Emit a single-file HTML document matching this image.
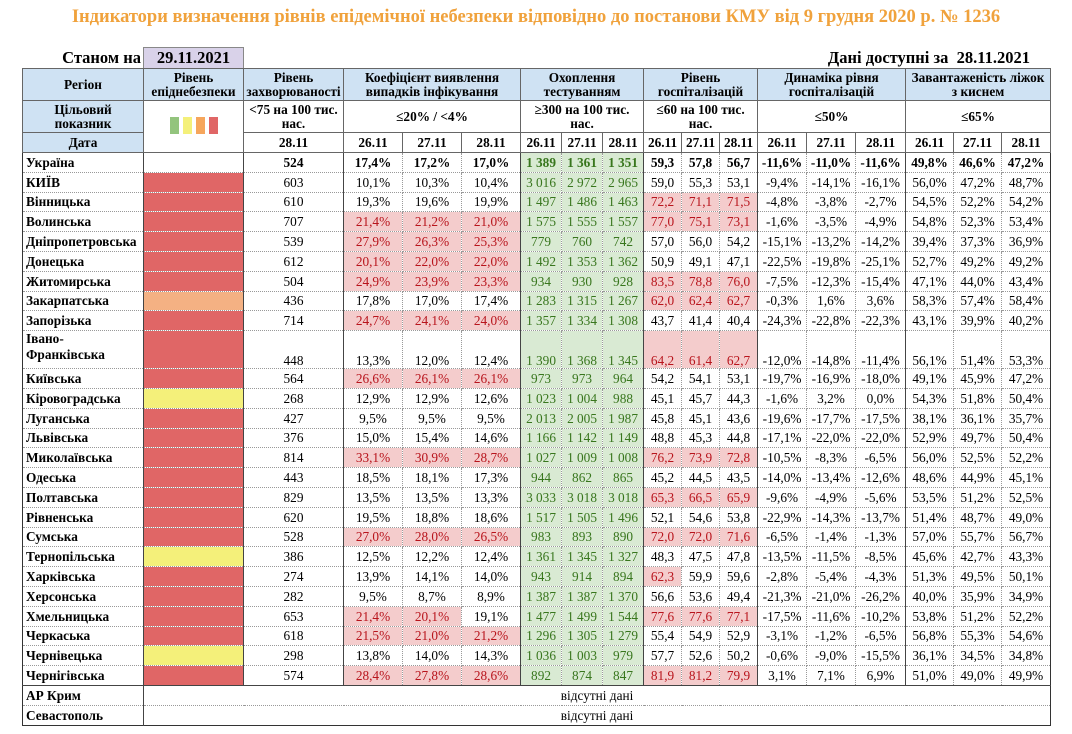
<!DOCTYPE html>
<html><head><meta charset="utf-8">
<style>
body{margin:0;width:1072px;height:734px;background:#fff;font-family:"Liberation Serif","DejaVu Serif",serif;color:#000;position:relative;overflow:hidden}
.title{position:absolute;left:0;width:1072px;top:7px;text-align:center;color:#f0a23c;font-weight:bold;font-size:18.5px}
.st{position:absolute;left:22px;top:48px;width:119px;text-align:right;font-weight:bold;font-size:16.5px}
.dt{position:absolute;left:143px;top:47px;width:99px;height:20px;background:#d9d2e9;border:1px solid #888;border-bottom:none;text-align:center;font-weight:bold;font-size:16.5px;line-height:20px}
.av{position:absolute;right:42px;top:48px;font-weight:bold;font-size:16.5px}
table{position:absolute;left:22px;top:68px;border-collapse:collapse;table-layout:fixed;width:1028px;font-size:13.3px;border:1.5px solid #333}
td{border:1px dotted #999;text-align:center;padding:0;white-space:nowrap;overflow:hidden;line-height:15px}
tr.d td{height:18.8px}
td.n{text-align:left;font-weight:bold;padding-left:3px}
.h td{background:#cfe2f3;font-weight:bold;border:1px solid #666;line-height:14px}
.h2 td{font-weight:bold;border:1px solid #666;line-height:14px}
.h2 td.b{background:#cfe2f3}
.s{border-left:1px solid #444!important}
.R{background:#e06666}.O{background:#f4b183}.Y{background:#f4f07a}
.p{background:#f4cccc;color:#b8141c}
.g{background:#d9ead3;color:#38761d}
tr.u td{font-weight:bold}
</style></head><body>
<div class="title">Індикатори визначення рівнів епідемічної небезпеки відповідно до постанови КМУ від 9 грудня 2020 р. № 1236</div>
<div class="st">Станом на</div><div class="dt">29.11.2021</div>
<div class="av">Дані доступні за &nbsp;28.11.2021</div>
<table>
<colgroup><col style="width:121px"><col style="width:100px"><col style="width:100px"><col style="width:59px"><col style="width:59px"><col style="width:59px"><col style="width:41px"><col style="width:41px"><col style="width:41px"><col style="width:38px"><col style="width:38px"><col style="width:38px"><col style="width:49px"><col style="width:49px"><col style="width:50px"><col style="width:48px"><col style="width:48px"><col style="width:49px"></colgroup>
<tr class="h" style="height:32px"><td>Регіон</td><td>Рівень<br>епіднебезпеки</td><td>Рівень<br>захворюваності</td><td colspan="3">Коефіцієнт виявлення<br>випадків інфікування</td><td colspan="3">Охоплення<br>тестуванням</td><td colspan="3">Рівень<br>госпіталізацій</td><td colspan="3">Динаміка рівня<br>госпіталізацій</td><td colspan="3">Завантаженість ліжок<br>з киснем</td></tr>
<tr class="h2" style="height:32px"><td class="b">Цільовий<br>показник</td><td rowspan="2"><span style="display:inline-block;width:9px;height:17px;background:#93c47d;margin:0 2px"></span><span style="display:inline-block;width:9px;height:17px;background:#f4f07a;margin:0 2px"></span><span style="display:inline-block;width:9px;height:17px;background:#f6a65c;margin:0 2px"></span><span style="display:inline-block;width:9px;height:17px;background:#e06666;margin:0 2px"></span></td><td>&lt;75 на 100 тис.<br>нас.</td><td colspan="3">≤20% / &lt;4%</td><td colspan="3">≥300 на 100 тис.<br>нас.</td><td colspan="3">≤60 на 100 тис.<br>нас.</td><td colspan="3">≤50%</td><td colspan="3">≤65%</td></tr>
<tr class="h2" style="height:20px"><td class="b">Дата</td><td>28.11</td><td>26.11</td><td>27.11</td><td>28.11</td><td>26.11</td><td>27.11</td><td>28.11</td><td>26.11</td><td>27.11</td><td>28.11</td><td>26.11</td><td>27.11</td><td>28.11</td><td>26.11</td><td>27.11</td><td>28.11</td></tr>
<tr class="d u"><td class="n">Україна</td><td class="s"></td><td class="s">524</td><td class="s">17,4%</td><td>17,2%</td><td>17,0%</td><td class="s g">1 389</td><td class="g">1 361</td><td class="g">1 351</td><td class="s">59,3</td><td>57,8</td><td>56,7</td><td class="s">-11,6%</td><td>-11,0%</td><td>-11,6%</td><td class="s">49,8%</td><td>46,6%</td><td>47,2%</td></tr>
<tr class="d"><td class="n">КИЇВ</td><td class="s R"></td><td class="s">603</td><td class="s">10,1%</td><td>10,3%</td><td>10,4%</td><td class="s g">3 016</td><td class="g">2 972</td><td class="g">2 965</td><td class="s">59,0</td><td>55,3</td><td>53,1</td><td class="s">-9,4%</td><td>-14,1%</td><td>-16,1%</td><td class="s">56,0%</td><td>47,2%</td><td>48,7%</td></tr>
<tr class="d"><td class="n">Вінницька</td><td class="s R"></td><td class="s">610</td><td class="s">19,3%</td><td>19,6%</td><td>19,9%</td><td class="s g">1 497</td><td class="g">1 486</td><td class="g">1 463</td><td class="s p">72,2</td><td class="p">71,1</td><td class="p">71,5</td><td class="s">-4,8%</td><td>-3,8%</td><td>-2,7%</td><td class="s">54,5%</td><td>52,2%</td><td>54,2%</td></tr>
<tr class="d"><td class="n">Волинська</td><td class="s R"></td><td class="s">707</td><td class="s p">21,4%</td><td class="p">21,2%</td><td class="p">21,0%</td><td class="s g">1 575</td><td class="g">1 555</td><td class="g">1 557</td><td class="s p">77,0</td><td class="p">75,1</td><td class="p">73,1</td><td class="s">-1,6%</td><td>-3,5%</td><td>-4,9%</td><td class="s">54,8%</td><td>52,3%</td><td>53,4%</td></tr>
<tr class="d"><td class="n">Дніпропетровська</td><td class="s R"></td><td class="s">539</td><td class="s p">27,9%</td><td class="p">26,3%</td><td class="p">25,3%</td><td class="s g">779</td><td class="g">760</td><td class="g">742</td><td class="s">57,0</td><td>56,0</td><td>54,2</td><td class="s">-15,1%</td><td>-13,2%</td><td>-14,2%</td><td class="s">39,4%</td><td>37,3%</td><td>36,9%</td></tr>
<tr class="d"><td class="n">Донецька</td><td class="s R"></td><td class="s">612</td><td class="s p">20,1%</td><td class="p">22,0%</td><td class="p">22,0%</td><td class="s g">1 492</td><td class="g">1 353</td><td class="g">1 362</td><td class="s">50,9</td><td>49,1</td><td>47,1</td><td class="s">-22,5%</td><td>-19,8%</td><td>-25,1%</td><td class="s">52,7%</td><td>49,2%</td><td>49,2%</td></tr>
<tr class="d"><td class="n">Житомирська</td><td class="s R"></td><td class="s">504</td><td class="s p">24,9%</td><td class="p">23,9%</td><td class="p">23,3%</td><td class="s g">934</td><td class="g">930</td><td class="g">928</td><td class="s p">83,5</td><td class="p">78,8</td><td class="p">76,0</td><td class="s">-7,5%</td><td>-12,3%</td><td>-15,4%</td><td class="s">47,1%</td><td>44,0%</td><td>43,4%</td></tr>
<tr class="d"><td class="n">Закарпатська</td><td class="s O"></td><td class="s">436</td><td class="s">17,8%</td><td>17,0%</td><td>17,4%</td><td class="s g">1 283</td><td class="g">1 315</td><td class="g">1 267</td><td class="s p">62,0</td><td class="p">62,4</td><td class="p">62,7</td><td class="s">-0,3%</td><td>1,6%</td><td>3,6%</td><td class="s">58,3%</td><td>57,4%</td><td>58,4%</td></tr>
<tr class="d"><td class="n">Запорізька</td><td class="s R"></td><td class="s">714</td><td class="s p">24,7%</td><td class="p">24,1%</td><td class="p">24,0%</td><td class="s g">1 357</td><td class="g">1 334</td><td class="g">1 308</td><td class="s">43,7</td><td>41,4</td><td>40,4</td><td class="s">-24,3%</td><td>-22,8%</td><td>-22,3%</td><td class="s">43,1%</td><td>39,9%</td><td>40,2%</td></tr>
<tr class="d" style="height:38px"><td class="n" style="vertical-align:top;line-height:16px">Івано-<br>Франківська</td><td class="s R"></td><td class="s" style="vertical-align:bottom">448</td><td class="s" style="vertical-align:bottom">13,3%</td><td style="vertical-align:bottom">12,0%</td><td style="vertical-align:bottom">12,4%</td><td class="s g" style="vertical-align:bottom">1 390</td><td class="g" style="vertical-align:bottom">1 368</td><td class="g" style="vertical-align:bottom">1 345</td><td class="s p" style="vertical-align:bottom">64,2</td><td class="p" style="vertical-align:bottom">61,4</td><td class="p" style="vertical-align:bottom">62,7</td><td class="s" style="vertical-align:bottom">-12,0%</td><td style="vertical-align:bottom">-14,8%</td><td style="vertical-align:bottom">-11,4%</td><td class="s" style="vertical-align:bottom">56,1%</td><td style="vertical-align:bottom">51,4%</td><td style="vertical-align:bottom">53,3%</td></tr>
<tr class="d"><td class="n">Київська</td><td class="s R"></td><td class="s">564</td><td class="s p">26,6%</td><td class="p">26,1%</td><td class="p">26,1%</td><td class="s g">973</td><td class="g">973</td><td class="g">964</td><td class="s">54,2</td><td>54,1</td><td>53,1</td><td class="s">-19,7%</td><td>-16,9%</td><td>-18,0%</td><td class="s">49,1%</td><td>45,9%</td><td>47,2%</td></tr>
<tr class="d"><td class="n">Кіровоградська</td><td class="s Y"></td><td class="s">268</td><td class="s">12,9%</td><td>12,9%</td><td>12,6%</td><td class="s g">1 023</td><td class="g">1 004</td><td class="g">988</td><td class="s">45,1</td><td>45,7</td><td>44,3</td><td class="s">-1,6%</td><td>3,2%</td><td>0,0%</td><td class="s">54,3%</td><td>51,8%</td><td>50,4%</td></tr>
<tr class="d"><td class="n">Луганська</td><td class="s R"></td><td class="s">427</td><td class="s">9,5%</td><td>9,5%</td><td>9,5%</td><td class="s g">2 013</td><td class="g">2 005</td><td class="g">1 987</td><td class="s">45,8</td><td>45,1</td><td>43,6</td><td class="s">-19,6%</td><td>-17,7%</td><td>-17,5%</td><td class="s">38,1%</td><td>36,1%</td><td>35,7%</td></tr>
<tr class="d"><td class="n">Львівська</td><td class="s R"></td><td class="s">376</td><td class="s">15,0%</td><td>15,4%</td><td>14,6%</td><td class="s g">1 166</td><td class="g">1 142</td><td class="g">1 149</td><td class="s">48,8</td><td>45,3</td><td>44,8</td><td class="s">-17,1%</td><td>-22,0%</td><td>-22,0%</td><td class="s">52,9%</td><td>49,7%</td><td>50,4%</td></tr>
<tr class="d"><td class="n">Миколаївська</td><td class="s R"></td><td class="s">814</td><td class="s p">33,1%</td><td class="p">30,9%</td><td class="p">28,7%</td><td class="s g">1 027</td><td class="g">1 009</td><td class="g">1 008</td><td class="s p">76,2</td><td class="p">73,9</td><td class="p">72,8</td><td class="s">-10,5%</td><td>-8,3%</td><td>-6,5%</td><td class="s">56,0%</td><td>52,5%</td><td>52,2%</td></tr>
<tr class="d"><td class="n">Одеська</td><td class="s R"></td><td class="s">443</td><td class="s">18,5%</td><td>18,1%</td><td>17,3%</td><td class="s g">944</td><td class="g">862</td><td class="g">865</td><td class="s">45,2</td><td>44,5</td><td>43,5</td><td class="s">-14,0%</td><td>-13,4%</td><td>-12,6%</td><td class="s">48,6%</td><td>44,9%</td><td>45,1%</td></tr>
<tr class="d"><td class="n">Полтавська</td><td class="s R"></td><td class="s">829</td><td class="s">13,5%</td><td>13,5%</td><td>13,3%</td><td class="s g">3 033</td><td class="g">3 018</td><td class="g">3 018</td><td class="s p">65,3</td><td class="p">66,5</td><td class="p">65,9</td><td class="s">-9,6%</td><td>-4,9%</td><td>-5,6%</td><td class="s">53,5%</td><td>51,2%</td><td>52,5%</td></tr>
<tr class="d"><td class="n">Рівненська</td><td class="s R"></td><td class="s">620</td><td class="s">19,5%</td><td>18,8%</td><td>18,6%</td><td class="s g">1 517</td><td class="g">1 505</td><td class="g">1 496</td><td class="s">52,1</td><td>54,6</td><td>53,8</td><td class="s">-22,9%</td><td>-14,3%</td><td>-13,7%</td><td class="s">51,4%</td><td>48,7%</td><td>49,0%</td></tr>
<tr class="d"><td class="n">Сумська</td><td class="s R"></td><td class="s">528</td><td class="s p">27,0%</td><td class="p">28,0%</td><td class="p">26,5%</td><td class="s g">983</td><td class="g">893</td><td class="g">890</td><td class="s p">72,0</td><td class="p">72,0</td><td class="p">71,6</td><td class="s">-6,5%</td><td>-1,4%</td><td>-1,3%</td><td class="s">57,0%</td><td>55,7%</td><td>56,7%</td></tr>
<tr class="d"><td class="n">Тернопільська</td><td class="s Y"></td><td class="s">386</td><td class="s">12,5%</td><td>12,2%</td><td>12,4%</td><td class="s g">1 361</td><td class="g">1 345</td><td class="g">1 327</td><td class="s">48,3</td><td>47,5</td><td>47,8</td><td class="s">-13,5%</td><td>-11,5%</td><td>-8,5%</td><td class="s">45,6%</td><td>42,7%</td><td>43,3%</td></tr>
<tr class="d"><td class="n">Харківська</td><td class="s R"></td><td class="s">274</td><td class="s">13,9%</td><td>14,1%</td><td>14,0%</td><td class="s g">943</td><td class="g">914</td><td class="g">894</td><td class="s p">62,3</td><td>59,9</td><td>59,6</td><td class="s">-2,8%</td><td>-5,4%</td><td>-4,3%</td><td class="s">51,3%</td><td>49,5%</td><td>50,1%</td></tr>
<tr class="d"><td class="n">Херсонська</td><td class="s R"></td><td class="s">282</td><td class="s">9,5%</td><td>8,7%</td><td>8,9%</td><td class="s g">1 387</td><td class="g">1 387</td><td class="g">1 370</td><td class="s">56,6</td><td>53,6</td><td>49,4</td><td class="s">-21,3%</td><td>-21,0%</td><td>-26,2%</td><td class="s">40,0%</td><td>35,9%</td><td>34,9%</td></tr>
<tr class="d"><td class="n">Хмельницька</td><td class="s R"></td><td class="s">653</td><td class="s p">21,4%</td><td class="p">20,1%</td><td>19,1%</td><td class="s g">1 477</td><td class="g">1 499</td><td class="g">1 544</td><td class="s p">77,6</td><td class="p">77,6</td><td class="p">77,1</td><td class="s">-17,5%</td><td>-11,6%</td><td>-10,2%</td><td class="s">53,8%</td><td>51,2%</td><td>52,2%</td></tr>
<tr class="d"><td class="n">Черкаська</td><td class="s R"></td><td class="s">618</td><td class="s p">21,5%</td><td class="p">21,0%</td><td class="p">21,2%</td><td class="s g">1 296</td><td class="g">1 305</td><td class="g">1 279</td><td class="s">55,4</td><td>54,9</td><td>52,9</td><td class="s">-3,1%</td><td>-1,2%</td><td>-6,5%</td><td class="s">56,8%</td><td>55,3%</td><td>54,6%</td></tr>
<tr class="d"><td class="n">Чернівецька</td><td class="s Y"></td><td class="s">298</td><td class="s">13,8%</td><td>14,0%</td><td>14,3%</td><td class="s g">1 036</td><td class="g">1 003</td><td class="g">979</td><td class="s">57,7</td><td>52,6</td><td>50,2</td><td class="s">-0,6%</td><td>-9,0%</td><td>-15,5%</td><td class="s">36,1%</td><td>34,5%</td><td>34,8%</td></tr>
<tr class="d"><td class="n">Чернігівська</td><td class="s R"></td><td class="s">574</td><td class="s p">28,4%</td><td class="p">27,8%</td><td class="p">28,6%</td><td class="s g">892</td><td class="g">874</td><td class="g">847</td><td class="s p">81,9</td><td class="p">81,2</td><td class="p">79,9</td><td class="s">3,1%</td><td>7,1%</td><td>6,9%</td><td class="s">51,0%</td><td>49,0%</td><td>49,9%</td></tr>
<tr class="d"><td class="n" style="border-top:1px solid #444">АР Крим</td><td class="s" colspan="17" style="border-top:1px solid #444">відсутні дані</td></tr>
<tr class="d"><td class="n">Севастополь</td><td class="s" colspan="17">відсутні дані</td></tr>
</table>
</body></html>
